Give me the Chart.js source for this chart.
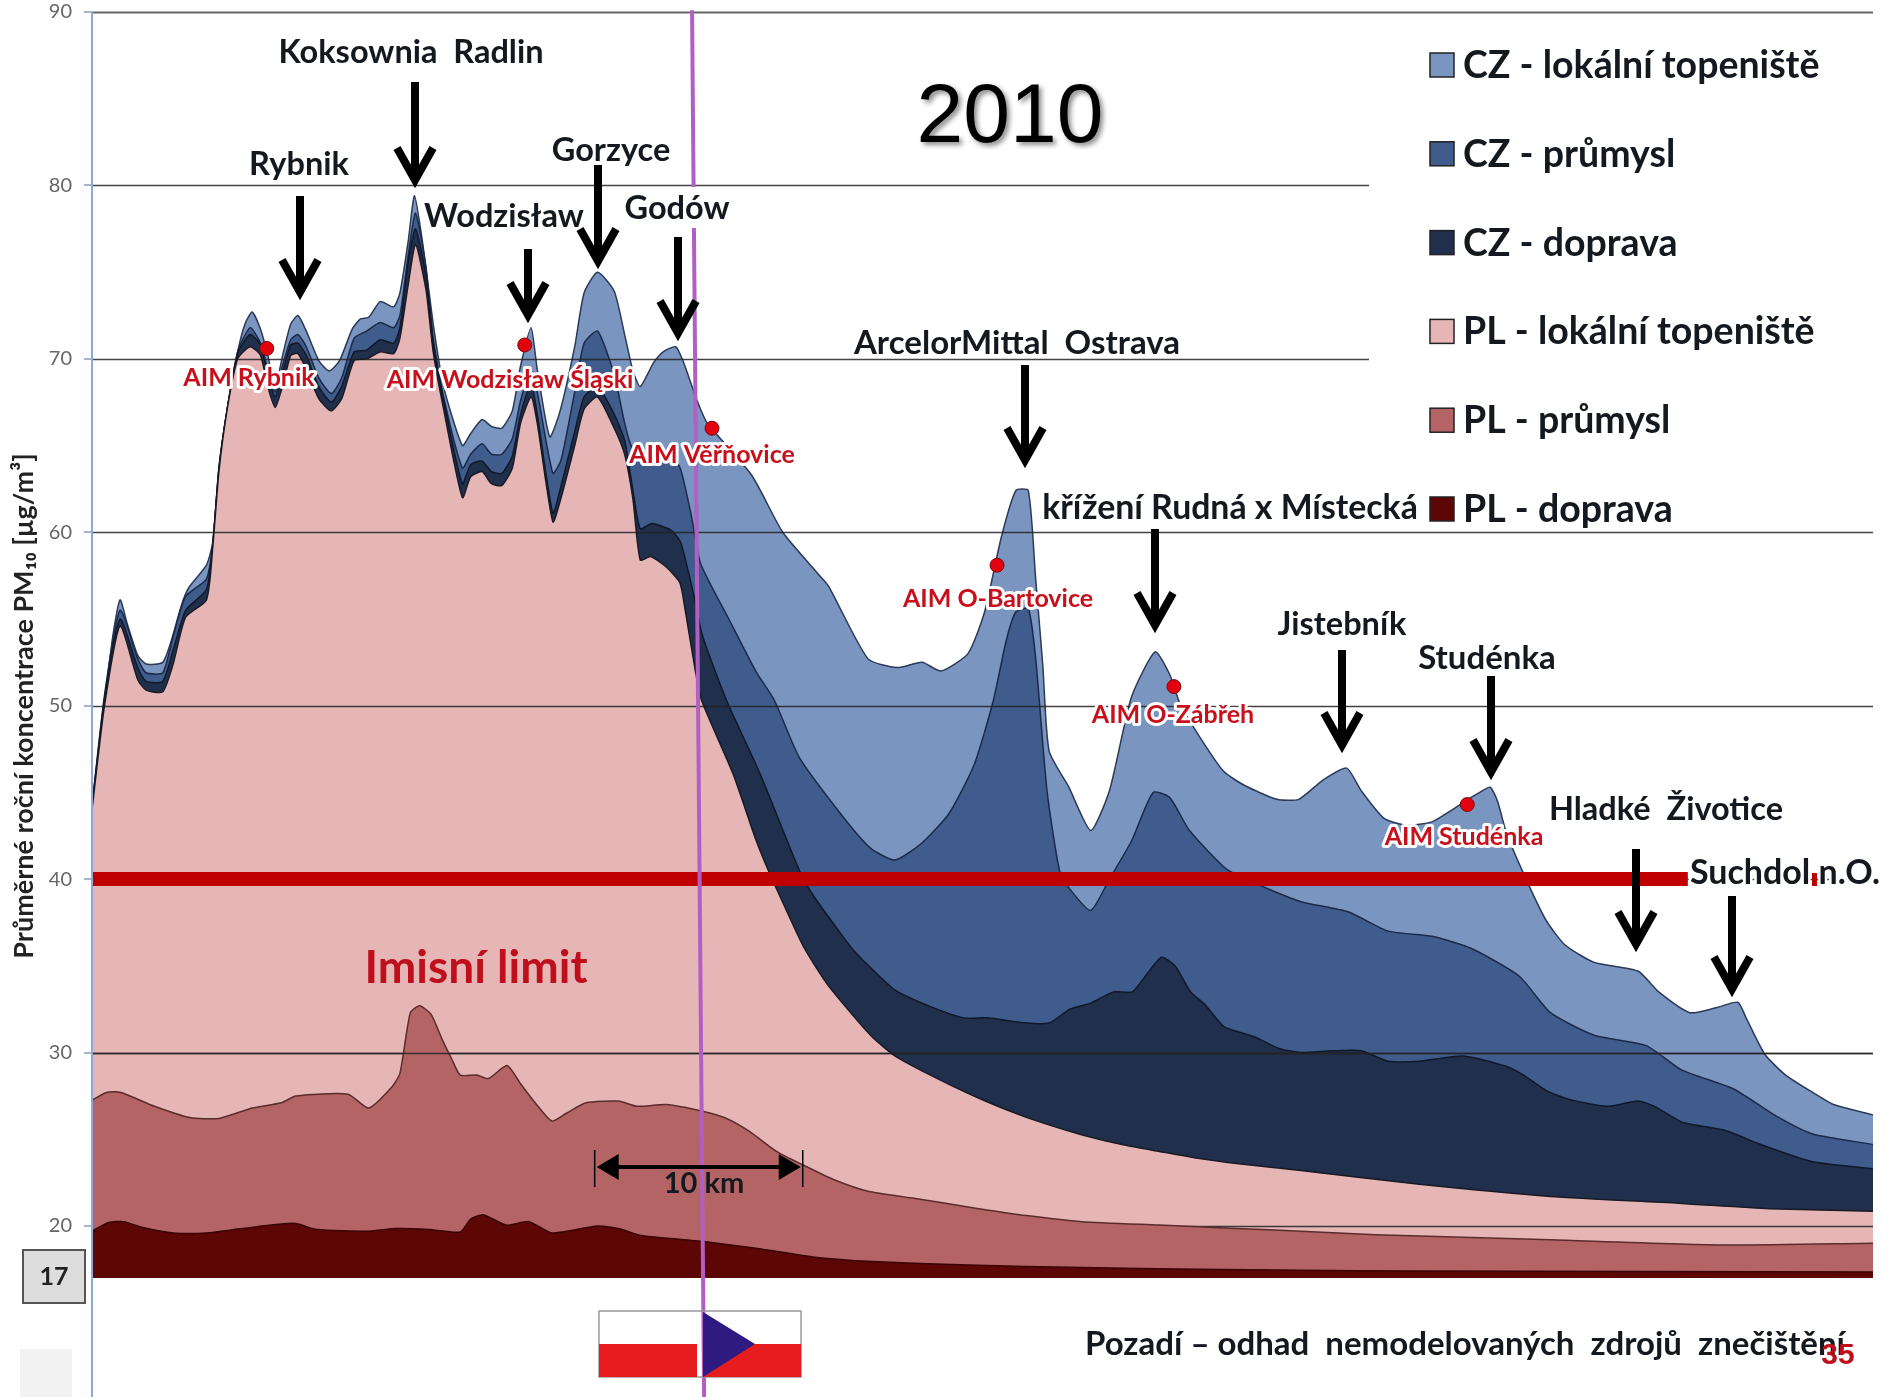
<!DOCTYPE html>
<html lang="cs">
<head>
<meta charset="utf-8">
<title>PM10 2010</title>
<script src="https://cdn.jsdelivr.net/npm/chart.js@4"></script>
<style>
    html, body { margin: 0; padding: 0; background: #fff; }
    canvas { display: block; }
</style>
</head>
<body>
<canvas id="chart" width="1885" height="1397"></canvas>
<script>
/* ============================================================
   Data: [km along the transect, cumulative PM10 in ug/m3]
   ============================================================ */
const seriesNames = ['CZ - lokální topeniště', 'CZ - průmysl', 'CZ - doprava', 'PL - lokální topeniště', 'PL - průmysl', 'PL - doprava'];
const seriesColors = ['#7b95c1', '#3f5c8c', '#202f4b', '#e6b6b6', '#b46465', '#5c0605'];
const seriesLines = ['#2a3a58', '#1b2a48', '#10182a', '#1a1a24', '#5a2c2c', '#3a0404'];
const yTicks = [20, 30, 40, 50, 60, 70, 80, 90];

const czLokalni = [[0,44.3],[0.6,50.2],[1,54],[1.35,56.1],[1.7,54.7],[2.2,52.9],[2.6,52.4],[3.4,52.5],[3.8,53.7],[4.3,55.8],[4.65,56.8],[5.5,58.1],[5.8,59.4],[6.1,63.7],[6.5,67.1],[7,70.4],[7.35,72],[7.7,72.7],[8.1,71.7],[8.45,70.2],[8.8,68.4],[9.2,70.4],[9.55,72],[9.9,72.5],[10.3,71.6],[10.9,69.9],[11.4,69.3],[11.9,69.9],[12.5,71.7],[12.9,72.3],[13.3,72.4],[13.85,73.3],[14.5,73],[14.8,73.8],[15.2,76.8],[15.5,79.4],[15.9,76.6],[16.4,72],[16.9,68.4],[17.8,65],[18.2,65.7],[18.75,66.5],[19.2,66.1],[19.7,66],[20.2,67],[20.6,69.6],[21.1,71.8],[21.4,69.4],[22,65.5],[22.5,67],[23.2,70.7],[23.65,73.8],[24.3,75],[25.1,73.9],[25.6,71.4],[26,69.3],[26.35,68.4],[27,69.8],[27.45,70.4],[28.05,70.7],[28.4,69.9],[29.05,67.7],[29.57,66.3],[31.7,63.3],[33.2,60],[34.9,57.6],[35.4,56.9],[37.3,52.7],[38.7,52.2],[39.9,52.5],[40.8,52],[42.1,53],[42.9,55.4],[43.7,59.7],[44.4,62.4],[45,62.4],[45.35,57.4],[45.7,52.3],[46,47.4],[46.95,45.3],[48,42.8],[48.9,45.1],[49.96,50.5],[51.1,53.1],[51.8,51.8],[52.3,50.1],[53.4,47.9],[54.4,46.2],[55.4,45.4],[56.95,44.6],[58,44.6],[59.15,45.7],[60.3,46.4],[61,45.1],[62.1,43.5],[63.2,43.1],[64.4,43.3],[65.25,43.9],[66,44.5],[66.7,45],[67.2,45.3],[67.55,44.5],[68,42.6],[69,39.8],[69.9,37.6],[70.8,36.2],[72.2,35.2],[74.3,34.7],[75.3,33.5],[76.8,32.3],[78.1,32.6],[79.1,32.9],[79.5,32],[80.4,29.9],[81.4,28.7],[82.7,27.7],[83.7,27],[85.6,26.4]];

const czPrumysl = [[0,44.2],[0.6,50.6],[1.35,55.5],[2.2,52.7],[2.6,51.9],[3.4,51.9],[3.9,54],[4.5,56.3],[5.5,57.3],[5.8,59.3],[6.1,63.7],[6.5,67.1],[7,70.4],[7.6,71.8],[8.1,70.9],[8.45,69.4],[8.8,68.1],[9.2,69.8],[9.55,71.1],[9.9,71.4],[10.3,70.7],[10.9,68.9],[11.5,68],[12,68.9],[12.6,71.2],[13.2,71.6],[13.85,72.1],[14.5,71.8],[14.8,72.5],[15.2,76],[15.55,78.4],[16.05,75.3],[16.4,71.2],[16.9,67.8],[17.8,63.7],[18.2,64.5],[18.75,65.1],[19.2,64.5],[19.7,64.5],[20.2,65.4],[20.6,67.6],[21.1,69.3],[21.4,68.1],[22.15,63.4],[22.55,64.2],[23.2,68.1],[23.65,70.9],[24.3,71.6],[25.1,69.1],[25.6,66.3],[26,64.8],[27,64.4],[28,64.2],[28.3,63.6],[28.8,61],[29.25,58.2],[30.65,54.9],[31.9,52],[32.8,50.3],[34,47],[35.96,43.8],[37.4,41.8],[38.6,41.1],[39.9,42.1],[41.2,43.8],[42.4,46.6],[43.3,50.2],[43.95,53.8],[44.4,55.4],[45,55.6],[45.35,52.8],[45.9,45.1],[46.5,40.5],[46.95,39.5],[48,38.2],[48.9,40],[49.96,42.2],[51,45],[51.8,44.7],[52.75,42.8],[54.5,40.6],[55.5,40],[56.6,39.4],[58.1,38.7],[60.4,38.1],[62.3,37],[64.4,36.7],[66.3,36],[68.6,34.4],[70.1,32.3],[72.2,31],[74.7,30.4],[76.4,29],[78.9,27.9],[81,26.3],[82.7,25.3],[85.6,24.7]];

const czDoprava = [[0,44.1],[0.6,50.4],[1.35,55],[2.2,52.2],[2.6,51.4],[3.4,51.4],[3.9,53.2],[4.5,55.5],[5.5,56.7],[5.8,59.2],[6.1,63.6],[6.5,67.1],[7,70.3],[7.6,71.4],[8.1,70.8],[8.45,69.1],[8.8,67.8],[9.2,69.4],[9.55,70.8],[9.9,70.9],[10.3,70.2],[10.9,68.4],[11.5,67.5],[12,68.4],[12.6,70.4],[13.2,70.5],[13.85,71.1],[14.5,70.9],[14.8,71.8],[15.2,75.6],[15.55,77.5],[16.05,74.8],[16.4,70.9],[16.9,67.6],[17.8,62.8],[18.2,63.9],[18.75,64.1],[19.2,63.5],[19.7,63.4],[20.2,64.4],[20.6,66.8],[21.1,68.6],[21.4,66.8],[22.15,61.1],[22.55,62.7],[23.2,65.8],[23.65,67.8],[24.3,68.4],[25.1,66.8],[25.6,65.3],[26,62.4],[26.35,60.2],[26.9,60.5],[27.85,60.1],[28.3,59.4],[28.9,56.5],[29.35,54],[30.5,50.3],[32.1,46.1],[34,40.5],[34.7,39],[35.96,36.9],[36.6,35.9],[37.5,34.8],[38.6,33.6],[40.3,32.65],[41.9,32],[43,32],[44.9,31.7],[46,31.7],[47,32.5],[48,32.85],[49.1,33.5],[50,33.5],[50.75,34.6],[51.4,35.5],[52.05,35],[52.8,33.5],[53.5,32.75],[54.4,31.5],[55.9,30.9],[57,30.25],[58.1,30],[59.6,30.1],[61,30.1],[62.3,29.5],[63.8,29.5],[65.9,29.8],[68,29.2],[68.8,28.7],[69.9,27.8],[71,27.3],[72.8,26.9],[74.3,27.2],[75.1,26.9],[76.4,26],[78.5,25.5],[80.2,24.7],[82.7,23.7],[85.6,23.3]];

const plLokalni = [[0,44],[0.6,50],[1.35,54.6],[2.2,51.5],[2.6,50.9],[3.4,50.8],[3.9,52.4],[4.5,55.1],[5.5,56.1],[5.8,59.1],[6.1,63.5],[6.5,67.1],[7,70],[7.6,70.7],[8.1,70.2],[8.45,68.4],[8.8,67.2],[9.2,68.6],[9.55,70.2],[9.9,70.3],[10.3,69.4],[10.9,67.7],[11.5,67],[12,67.7],[12.6,69.9],[13.2,70],[13.85,70.4],[14.5,70.3],[14.8,71.2],[15.2,74.3],[15.55,76.6],[16.05,74],[16.4,70.4],[16.9,67.1],[17.8,62],[18.2,63.2],[18.75,63.5],[19.2,62.8],[19.7,62.7],[20.2,63.7],[20.6,66.3],[21.1,67.8],[21.4,66.3],[22.15,60.6],[22.55,62],[23.2,65],[23.65,67.1],[24.3,67.8],[25.1,66],[25.6,64.5],[26,61.9],[26.35,58.4],[26.85,58.6],[27.6,58],[28.25,57.1],[28.5,55.6],[29,52],[29.3,50.3],[30.8,46.1],[31.9,42.3],[32.4,40.8],[33.07,39],[34.2,36.1],[35.3,34],[36.6,32.1],[37.5,30.9],[38.6,29.8],[40.3,28.7],[42.1,27.65],[43.95,26.7],[45.8,25.9],[47.6,25.25],[49.5,24.7],[51.3,24.3],[53.15,23.9],[55,23.6],[58.1,23.2],[63.8,22.4],[70.1,21.7],[76.4,21.3],[80.6,21],[85.6,20.85]];

const plPrumysl = [[0,27.25],[0.7,27.7],[1.4,27.7],[3,26.9],[4.7,26.25],[6.1,26.2],[7.7,26.8],[9.1,27.1],[9.8,27.5],[12.3,27.6],[13.3,26.8],[14.4,28],[14.8,28.8],[15.3,32.3],[15.75,32.7],[16.3,32.2],[16.85,30.7],[17.3,29.6],[17.7,28.7],[18.5,28.7],[19.05,28.5],[19.95,29.25],[20.6,28.2],[21.3,27.1],[22.1,26.05],[22.8,26.5],[23.75,27.1],[25.3,27.2],[26.2,26.9],[27.6,27],[29.4,26.6],[30.5,26.2],[31.6,25.45],[32.9,24.3],[34.2,23.5],[35.7,22.65],[37.3,22],[39.5,21.6],[42.1,21.1],[44.9,20.6],[47.6,20.25],[51.3,20.05],[55,19.85],[58.1,19.7],[61.7,19.5],[70.1,19.2],[78.5,18.9],[85.6,19]];

const plDoprava = [[0,19.7],[0.8,20.2],[1.5,20.25],[2.5,19.9],[3.9,19.6],[5.5,19.6],[7.2,19.85],[9.7,20.15],[10.8,19.8],[13.3,19.7],[14.6,19.85],[16.2,19.8],[17.7,19.65],[18.2,20.4],[18.8,20.65],[19.9,20.05],[21,20.25],[22.1,19.6],[24.3,20],[25.3,19.85],[26.4,19.45],[27.6,19.3],[29.4,19.1],[32,18.7],[34.75,18.2],[37.5,17.95],[42.1,17.75],[47.6,17.6],[53.15,17.5],[58.1,17.45],[63.8,17.4],[85.6,17.35]];

const limitLine = [[0,40],[76.7,40]];
const borderLine = [[28.84,90.1],[29.42,10.1]];
const aimPoints = [[8.4,70.6],[20.8,70.8],[29.8,66],[43.5,58.1],[52,51.1],[66.1,44.3]];

/* ============================================================
   Annotations (page pixels)
   ============================================================ */
const LABEL_FONT = 'Lato, "Open Sans", sans-serif';
// text, x, y, font size
const blackLabels = [
    ['Koksownia  Radlin', 411, 53, 32.5], ['Rybnik', 299, 165, 32.5], ['Gorzyce', 611, 151, 32.5],
    ['Wodzisław', 504, 217, 32.5], ['Godów', 677, 209, 32.5], ['ArcelorMittal  Ostrava', 1017, 343, 33],
    ['křížení Rudná x Místecká', 1230, 508, 33.8], ['Jistebník', 1342, 625, 32.5], ['Studénka', 1487, 658, 33],
    ['Hladké  Životice', 1666, 810, 32.5], ['Suchdol n.O.', 1785, 873, 34]
];
const redLabels = [
    ['AIM Rybnik', 249, 378], ['AIM Wodzisław Śląski', 510, 380], ['AIM Věřňovice', 712, 455],
    ['AIM O-Bartovice', 998, 599], ['AIM O-Zábřeh', 1173, 715], ['AIM Studénka', 1464, 837]
];
// x, top of shaft, tip
const arrows = [
    [300, 196, 298], [415, 82, 186], [528, 249, 321], [598, 165, 267], [678, 237, 339], [1025, 365, 466],
    [1155, 529, 631], [1342, 650, 751], [1491, 676, 778], [1636, 849, 950], [1732, 896, 995]
];

function drawLabel(ctx, text, x, y, font, color, halo) {
    ctx.font = font;
    ctx.textAlign = 'center';
    ctx.textBaseline = 'middle';
    if (halo) {
        ctx.strokeStyle = '#fff';
        ctx.lineWidth = halo;
        ctx.lineJoin = 'round';
        ctx.strokeText(text, x, y);
    }
    ctx.fillStyle = color;
    ctx.fillText(text, x, y);
}

function drawArrow(ctx, x, top, tip) {
    ctx.strokeStyle = '#000';
    ctx.lineWidth = 8;
    ctx.lineCap = 'butt';
    ctx.lineJoin = 'miter';
    ctx.beginPath();
    ctx.moveTo(x, top);
    ctx.lineTo(x, tip - 6);
    ctx.stroke();
    ctx.beginPath();
    ctx.moveTo(x - 18, tip - 38);
    ctx.lineTo(x, tip - 6);
    ctx.lineTo(x + 18, tip - 38);
    ctx.stroke();
}

function gridLine(chart, value) {
    const { ctx, chartArea, scales } = chart;
    const y = Math.round(scales.y.getPixelForValue(value)) + 0.5;
    ctx.beginPath();
    ctx.moveTo(chartArea.left, y);
    ctx.lineTo(chartArea.right, y);
    ctx.strokeStyle = value === 90 ? '#666' : 'rgba(35,35,35,0.85)';
    ctx.lineWidth = value === 90 ? 2 : 1.5;
    ctx.stroke();
}

// the grid sits on the blue layers but under the pink ones, except for the 30 line
const gridLayers = {
    id: 'gridLayers',
    beforeDatasetDraw(chart, args) {
        const name = chart.data.datasets[args.index].label;
        if (name === seriesNames[3]) yTicks.forEach(v => gridLine(chart, v));
        if (name === 'limit') gridLine(chart, 30);
    }
};

const annotations = {
    id: 'annotations',
    afterDatasetsDraw(chart) {
        const { ctx, scales } = chart;
        const x = scales.x, y = scales.y;
        ctx.save();

        // left axis runs down to the page bottom
        ctx.strokeStyle = '#8ea8d6';
        ctx.lineWidth = 2;
        ctx.beginPath();
        ctx.moveTo(92, 12);
        ctx.lineTo(92, 1397);
        ctx.stroke();

        // legend box
        ctx.fillStyle = '#fff';
        ctx.fillRect(1369, 16, 516, 512);
        seriesNames.forEach((name, i) => {
            const cy = 65 + i * 88.8;
            ctx.fillStyle = seriesColors[i];
            ctx.strokeStyle = '#222';
            ctx.lineWidth = 1.5;
            ctx.fillRect(1430, cy - 12, 24, 24);
            ctx.strokeRect(1430, cy - 12, 24, 24);
            ctx.font = 'bold 37.5px ' + LABEL_FONT;
            ctx.textAlign = 'left';
            ctx.textBaseline = 'middle';
            ctx.fillStyle = '#14181f';
            ctx.fillText(name, 1463, cy + 1);
        });

        // y title
        ctx.save();
        ctx.translate(24, 706);
        ctx.rotate(-Math.PI / 2);
        drawLabel(ctx, 'Průměrné roční koncentrace PM₁₀ [µg/m³]', 0, 0, 'bold 27px ' + LABEL_FONT, '#222');
        ctx.restore();

        // box with the axis minimum
        ctx.fillStyle = '#ddd';
        ctx.strokeStyle = '#555';
        ctx.lineWidth = 2;
        ctx.fillRect(23, 1250, 62, 53);
        ctx.strokeRect(23, 1250, 62, 53);
        drawLabel(ctx, '17', 54, 1277, 'bold 25px ' + LABEL_FONT, '#222');
        ctx.fillStyle = '#f2f2f2';
        ctx.fillRect(20, 1349, 52, 48);

        // title
        ctx.save();
        ctx.shadowColor = 'rgba(0,0,0,0.45)';
        ctx.shadowBlur = 5;
        ctx.shadowOffsetX = 3;
        ctx.shadowOffsetY = 3;
        drawLabel(ctx, '2010', 1010, 119, '84px "Liberation Sans", Arial, sans-serif', '#000');
        ctx.restore();

        // Godów keeps a white box that cuts the border line
        ctx.fillStyle = '#fff';
        ctx.fillRect(622, 187, 88, 41);
        blackLabels.forEach(l => drawLabel(ctx, l[0], l[1], l[2], 'bold ' + l[3] + 'px ' + LABEL_FONT, '#14181f', 5));
        ctx.fillStyle = '#c00000';
        ctx.fillRect(1812, 873, 5, 13);
        redLabels.forEach(l => drawLabel(ctx, l[0], l[1], l[2], 'bold 25px ' + LABEL_FONT, '#c8101c', 6));
        arrows.forEach(a => drawArrow(ctx, a[0], a[1], a[2]));

        drawLabel(ctx, 'Imisní limit', 476, 968, 'bold 46px ' + LABEL_FONT, '#c00f1c');
        drawLabel(ctx, 'Pozadí – odhad  nemodelovaných  zdrojů  znečištění', 1465, 1344, 'bold 33px ' + LABEL_FONT, '#14181f');
        drawLabel(ctx, '35', 1838, 1356, 'bold 30px "Liberation Sans", Arial, sans-serif', '#c00f1c');

        // 10 km scale bar
        const barLeft = x.getPixelForValue(24.16), barRight = x.getPixelForValue(34.16);
        const barY = y.getPixelForValue(23.4);
        ctx.strokeStyle = '#000';
        ctx.lineWidth = 1.5;
        [barLeft, barRight].forEach(px => {
            ctx.beginPath();
            ctx.moveTo(px, barY - 17);
            ctx.lineTo(px, barY + 20);
            ctx.stroke();
        });
        ctx.lineWidth = 4;
        ctx.beginPath();
        ctx.moveTo(barLeft + 10, barY);
        ctx.lineTo(barRight - 10, barY);
        ctx.stroke();
        ctx.fillStyle = '#000';
        [[barLeft, 1], [barRight, -1]].forEach(([px, dir]) => {
            ctx.beginPath();
            ctx.moveTo(px + dir * 2, barY);
            ctx.lineTo(px + dir * 24, barY - 13);
            ctx.lineTo(px + dir * 24, barY + 13);
            ctx.closePath();
            ctx.fill();
        });
        drawLabel(ctx, '10 km', 704, 1184, 'bold 29px ' + LABEL_FONT, '#14181f');

        // flags
        ctx.fillStyle = '#fff';
        ctx.strokeStyle = '#999';
        ctx.lineWidth = 1.5;
        ctx.strokeRect(599, 1311, 202, 66);
        ctx.fillStyle = '#e61c1e';
        ctx.fillRect(599, 1344, 98, 33);
        ctx.fillRect(703, 1344, 98, 33);
        ctx.fillStyle = '#2e1a80';
        ctx.beginPath();
        ctx.moveTo(703, 1312);
        ctx.lineTo(755, 1344);
        ctx.lineTo(703, 1377);
        ctx.closePath();
        ctx.fill();

        ctx.restore();
    }
};

/* ============================================================
   Chart
   ============================================================ */
function areaDataset(i, data) {
    return {
        label: seriesNames[i],
        data: data,
        backgroundColor: seriesColors[i],
        borderColor: seriesLines[i],
        borderWidth: 1.5,
        fill: 'start',
        pointRadius: 0,
        tension: 0.2
    };
}

new Chart(document.getElementById('chart'), {
    type: 'line',
    data: {
        datasets: [
            {
                label: 'AIM',
                data: aimPoints,
                showLine: false,
                pointRadius: 7,
                backgroundColor: '#e3000f',
                borderColor: '#7a0a0a',
                borderWidth: 1
            },
            {
                label: 'hranice',
                data: borderLine,
                borderColor: '#b25fc4',
                borderWidth: 4,
                pointRadius: 0,
                clip: false
            },
            {
                label: 'limit',
                data: limitLine,
                borderColor: '#c00000',
                borderWidth: 14,
                pointRadius: 0
            },
            // first dataset is painted last, so the stack is listed from the bottom up
            areaDataset(5, plDoprava),
            areaDataset(4, plPrumysl),
            areaDataset(3, plLokalni),
            areaDataset(2, czDoprava),
            areaDataset(1, czPrumysl),
            areaDataset(0, czLokalni)
        ]
    },
    options: {
        responsive: false,
        animation: false,
        layout: { padding: { top: 12, right: 12, bottom: 119, left: 0 } },
        plugins: { legend: { display: false }, tooltip: { enabled: false } },
        scales: {
            x: { type: 'linear', min: 0, max: 85.6, display: false },
            y: {
                min: 17,
                max: 90,
                afterFit: scale => {
                    scale.width = 92;
                    // otherwise the scale pushes the chart area down by a label and its padding
                    scale.paddingTop = 0;
                    scale.paddingBottom = 0;
                },
                afterBuildTicks: scale => { scale.ticks = yTicks.map(v => ({ value: v })); },
                border: { display: false },
                grid: { drawOnChartArea: false, tickLength: 8, color: '#a9b4c6', lineWidth: 2 },
                ticks: { color: '#666', padding: 12, font: { family: 'Lato', size: 20 } }
            }
        }
    },
    plugins: [gridLayers, annotations]
});
</script>
</body>
</html>
